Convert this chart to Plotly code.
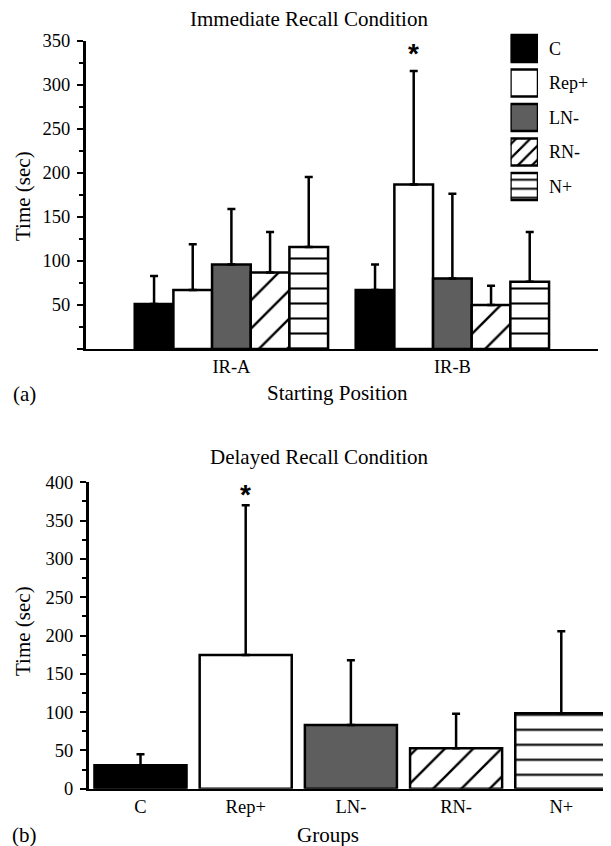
import plotly.graph_objects as go

# ---------------- data ----------------
groups = ["C", "Rep+", "LN-", "RN-", "N+"]
positions = ["IR-A", "IR-B"]

# Immediate recall condition: mean time (sec) at [IR-A, IR-B]
ir_c = [51, 67]
ir_rep = [67, 187]
ir_ln = [96, 80]
ir_rn = [87, 50]
ir_n = [116, 76.5]
# upper error bars (sec)
ir_c_err = [32, 29]
ir_rep_err = [52, 129]
ir_ln_err = [63, 96.5]
ir_rn_err = [46, 22]
ir_n_err = [79.5, 56.5]

# Delayed recall condition: mean time (sec) per group
dr_mean = [30.5, 174.5, 83, 52.7, 98.4]
dr_err = [14.5, 195.5, 84.6, 45.3, 107]

ir_yticks = [0, 50, 100, 150, 200, 250, 300, 350]
ir_yticklabels = ["", "50", "100", "150", "200", "250", "300", "350"]
dr_yticks = [0, 50, 100, 150, 200, 250, 300, 350, 400]
dr_yticklabels = ["0", "50", "100", "150", "200", "250", "300", "350", "400"]

legend_swatch = [1] * len(groups)

# ---------------- styles ----------------
PAGE_MARGIN = 8            # default <body> margin of the html page
W, H = 611 - PAGE_MARGIN, 846 - PAGE_MARGIN
FONT = "Liberation Serif"
fills = ["#000000", "#ffffff", "#5e5e5e", "#ffffff", "#ffffff"]
shapes = ["", "", "", "/", "-"]
pat_size = [10, 10, 10, 20, 15]
pat_sol = [0.2, 0.2, 0.2, 0.12, 0.14]
leg_size = [10, 10, 10, 10, 9]
leg_sol = [0.2, 0.2, 0.2, 0.22, 0.22]
BARGAP = 0.125


def px_x(x):
    return (x - PAGE_MARGIN) / W


def px_y(y):
    return 1 - (y - PAGE_MARGIN) / H


def pattern(shape, size, sol):
    return dict(shape=shape, fillmode="replace", fgcolor="black", fgopacity=1,
                bgcolor="white", size=size, solidity=sol)


fig = go.Figure()

ir_means = [ir_c, ir_rep, ir_ln, ir_rn, ir_n]
ir_errs = [ir_c_err, ir_rep_err, ir_ln_err, ir_rn_err, ir_n_err]

# (a) immediate recall: grouped bars
for i, g in enumerate(groups):
    fig.add_trace(go.Bar(
        x=positions, y=ir_means[i], name=g, xaxis="x", yaxis="y",
        marker=dict(color=fills[i], line=dict(color="black", width=2.5),
                    pattern=pattern(shapes[i], pat_size[i], pat_sol[i])),
        error_y=dict(type="data", symmetric=False, array=ir_errs[i],
                     arrayminus=[0] * len(positions), color="black",
                     thickness=2.5, width=4),
        showlegend=False,
    ))

# (b) delayed recall: one bar per group
for i, g in enumerate(groups):
    fig.add_trace(go.Bar(
        x=[g], y=[dr_mean[i]], name=g, xaxis="x2", yaxis="y2", offsetgroup="dr",
        marker=dict(color=fills[i], line=dict(color="black", width=2.5),
                    pattern=pattern(shapes[i], pat_size[i], pat_sol[i])),
        error_y=dict(type="data", symmetric=False, array=[dr_err[i]],
                     arrayminus=[0], color="black", thickness=2.5, width=4),
        showlegend=False,
    ))

# legend swatches
for i, g in enumerate(groups):
    fig.add_trace(go.Bar(
        y=[g], x=[legend_swatch[i]], orientation="h", xaxis="x3", yaxis="y3",
        width=0.78, offsetgroup="leg", name=g,
        marker=dict(color=fills[i], line=dict(color="black", width=2.5),
                    pattern=pattern(shapes[i], leg_size[i], leg_sol[i])),
        showlegend=False, hoverinfo="skip",
    ))

tickfont = dict(family=FONT, size=18.5, color="black")
yaxis_common = dict(
    showline=True, linecolor="black", linewidth=3, ticks="outside", ticklen=6,
    tickwidth=2, tickcolor="black", showgrid=False, zeroline=False,
    tickfont=tickfont, tickmode="array", automargin=False, ticklabelstandoff=3,
    minor=dict(tickmode="linear", tick0=0, dtick=25, ticks="outside", ticklen=4,
               tickwidth=2, tickcolor="black", showgrid=False),
)
xaxis_common = dict(
    showline=True, linecolor="black", linewidth=2, ticks="", showgrid=False,
    zeroline=False, tickfont=tickfont, type="category", automargin=False,
)

fig.update_layout(
    template="none",
    width=W, height=H,
    margin=dict(l=0, r=0, t=0, b=0, pad=0),
    paper_bgcolor="white", plot_bgcolor="white",
    barmode="group", bargap=BARGAP, bargroupgap=0,
    showlegend=False,
    font=dict(family=FONT, color="black"),
    xaxis=dict(xaxis_common, domain=[px_x(86), px_x(598)], anchor="y",
               range=[-0.658, 1.659], categoryorder="array",
               categoryarray=positions),
    yaxis=dict(yaxis_common, domain=[px_y(349), px_y(41)], anchor="x",
               range=[0, 350], tickvals=ir_yticks, ticktext=ir_yticklabels),
    xaxis2=dict(xaxis_common, domain=[px_x(89), 1.0], anchor="y2",
                range=[-0.4895, 4.4725], categoryorder="array",
                categoryarray=groups),
    yaxis2=dict(yaxis_common, domain=[px_y(788.7), px_y(482.3)], anchor="x2",
                range=[0, 400], tickvals=dr_yticks, ticktext=dr_yticklabels),
    xaxis3=dict(domain=[px_x(510.5), px_x(538)], anchor="y3", range=[0, 1],
                visible=False, fixedrange=True, automargin=False),
    yaxis3=dict(domain=[px_y(203.75), px_y(31.25)], anchor="x3", type="category",
                categoryorder="array", categoryarray=groups,
                autorange="reversed", side="right", showline=False, ticks="",
                showgrid=False, zeroline=False, ticklabelstandoff=10,
                automargin=False,
                tickfont=dict(family=FONT, size=18, color="black")),
)

# star positions derived from the bar layout
n = len(groups)
rep_i = groups.index("Rep+")
ipos = positions.index("IR-B")
star_x_top = ipos + (rep_i - (n - 1) / 2) * (1 - BARGAP) / n
star_y_top = ir_rep[ipos] + ir_rep_err[ipos]
star_y_bot = dr_mean[rep_i] + dr_err[rep_i]

star_font = dict(family="Liberation Sans", size=28, color="black")
ann = [
    dict(text="Immediate Recall Condition", x=px_x(309), y=px_y(19), xref="paper",
         yref="paper", showarrow=False, font=dict(size=21), xanchor="center",
         yanchor="middle", borderpad=0),
    dict(text="Time (sec)", x=px_x(23), y=px_y(196), xref="paper", yref="paper",
         showarrow=False, textangle=-90, font=dict(size=21), xanchor="center",
         yanchor="middle"),
    dict(text="Starting Position", x=px_x(337.5), y=px_y(393), xref="paper",
         yref="paper", showarrow=False, font=dict(size=21), xanchor="center",
         yanchor="middle"),
    dict(text="(a)", x=px_x(24), y=px_y(394), xref="paper", yref="paper",
         showarrow=False, font=dict(size=21), xanchor="center", yanchor="middle"),
    dict(text="Delayed Recall Condition", x=px_x(319), y=px_y(457), xref="paper",
         yref="paper", showarrow=False, font=dict(size=21), xanchor="center",
         yanchor="middle"),
    dict(text="Time (sec)", x=px_x(23), y=px_y(631), xref="paper", yref="paper",
         showarrow=False, textangle=-90, font=dict(size=21), xanchor="center",
         yanchor="middle"),
    dict(text="Groups", x=px_x(327.5), y=px_y(835), xref="paper", yref="paper",
         showarrow=False, font=dict(size=21), xanchor="center", yanchor="middle"),
    dict(text="(b)", x=px_x(24), y=px_y(835), xref="paper", yref="paper",
         showarrow=False, font=dict(size=21), xanchor="center", yanchor="middle"),
    dict(text="<b>*</b>", x=star_x_top, y=star_y_top, xref="x", yref="y",
         showarrow=False, font=star_font, xanchor="center", yanchor="bottom",
         yshift=0),
    dict(text="<b>*</b>", x=rep_i, y=star_y_bot, xref="x2", yref="y2",
         showarrow=False, font=star_font, xanchor="center", yanchor="bottom",
         yshift=-7),
]
fig.update_layout(annotations=ann)

fig.write_html("out.html")
